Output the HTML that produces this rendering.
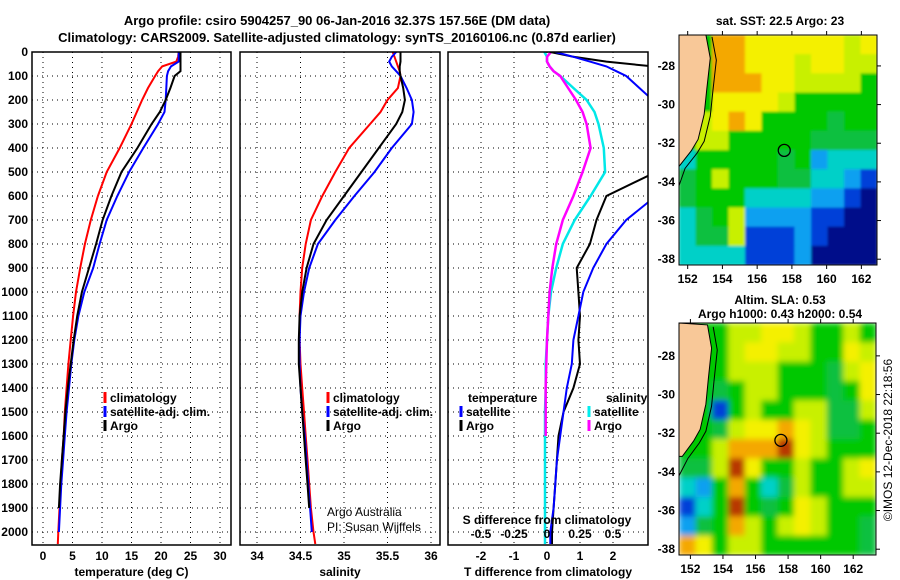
<!DOCTYPE html>
<html><head><meta charset="utf-8"><style>
body{margin:0;background:#fff}
svg{display:block;font-family:"Liberation Sans",sans-serif}
.t{font-weight:bold;font-size:13px}
.tk{font-weight:bold;font-size:12px}
.lg{font-weight:bold;font-size:12px}
</style></head><body>
<svg id="c" width="900" height="580" viewBox="0 0 900 580">
<defs>
<filter id="blur" x="0" y="0" width="1" height="1"><feGaussianBlur stdDeviation="3" edgeMode="duplicate"/></filter>
<filter id="blur1" x="0" y="0" width="1" height="1"><feGaussianBlur stdDeviation="1.2" edgeMode="duplicate"/></filter>
<clipPath id="cp1"><rect x="32" y="52" width="199" height="493"/></clipPath>
<clipPath id="cp2"><rect x="240" y="52" width="200" height="493"/></clipPath>
<clipPath id="cp3"><rect x="448" y="52" width="200" height="493"/></clipPath>
<clipPath id="cm1"><rect x="679" y="35" width="198" height="230"/></clipPath>
<clipPath id="cm2"><rect x="679" y="323" width="197" height="232"/></clipPath>
</defs>
<text x="337" y="25" text-anchor="middle" class="t">Argo profile: csiro 5904257_90 06-Jan-2016 32.37S 157.56E (DM data)</text>
<text x="337" y="42" text-anchor="middle" class="t">Climatology: CARS2009. Satellite-adjusted climatology: synTS_20160106.nc (0.87d earlier)</text>
<text x="780" y="25" text-anchor="middle" class="lg">sat. SST: 22.5 Argo: 23</text>
<text x="780" y="304" text-anchor="middle" class="lg">Altim. SLA: 0.53</text>
<text x="780" y="318" text-anchor="middle" class="lg">Argo h1000: 0.43 h2000: 0.54</text>
<text transform="translate(892,440) rotate(-90)" text-anchor="middle" font-size="12">©IMOS 12-Dec-2018 22:18:56</text>
<g id="g"></g>
</svg>
<script>
const depths=[0,20,40,60,80,100,150,200,250,300,400,500,600,700,800,900,1000,1100,1200,1300,1400,1500,1600,1700,1800,1900,2000,2050];
const tClim=[23,22.9,22.6,20.2,19.5,19,17.8,16.8,15.9,15,13,10.8,9.3,8.1,7.1,6.3,5.6,5.1,4.7,4.3,4.0,3.7,3.5,3.2,3.0,2.8,2.6,2.5];
const tSat=[23,23,23,21.7,21.2,21,20.9,20.8,20.6,19.5,17,14.6,12.6,10.8,9.6,8.5,7.0,6.0,5.3,4.8,4.4,4.0,3.7,3.4,3.1,2.9,2.7,null];
const tArgo=[23.3,23.3,23.3,23.3,23.3,22.3,21.6,20.8,19.8,18.4,16,13.3,11.6,10.1,9.0,7.8,6.6,5.8,5.2,4.7,4.2,3.8,3.5,3.2,2.9,2.7,null,null];
const sClim=[35.56,35.58,35.6,35.62,35.64,35.65,35.62,35.5,35.42,35.3,35.06,34.9,34.75,34.62,34.56,34.52,34.5,34.49,34.49,34.5,34.52,34.54,34.56,34.58,34.6,34.62,34.65,34.67];
const sSat=[35.6,35.55,35.52,35.55,35.6,35.65,35.72,35.78,35.8,35.78,35.55,35.35,35.12,34.9,34.7,34.6,34.54,34.5,34.49,34.49,34.5,34.52,34.55,34.57,34.59,34.61,34.63,null];
const sArgo=[35.65,35.65,35.65,35.64,35.64,35.65,35.68,35.7,35.67,35.6,35.4,35.2,35.0,34.8,34.65,34.57,34.52,34.49,34.48,34.48,34.5,34.52,34.54,34.56,34.58,34.6,null,null];
const dTArgo=[0.1,0.8,1.8,3.2,4,4,4,4,4,4,4,3.3,1.8,1.5,1.3,0.9,0.95,1.0,0.95,1.0,0.8,0.5,0.35,0.3,0.25,0.2,0.15,0.15];
const dTSat=[0.25,0.8,1.3,1.8,2.1,2.4,2.8,3.2,3.6,4,4,3.7,3.3,2.4,1.8,1.4,1.1,0.95,0.8,0.75,0.6,0.5,0.4,0.3,0.25,0.2,0.1,0.1];
const dSSat=[-0.02,0,0,0.02,0.05,0.1,0.2,0.3,0.36,0.39,0.43,0.44,0.33,0.21,0.12,0.07,0.03,0.01,0.0,-0.01,-0.01,-0.015,-0.015,-0.015,-0.015,-0.015,-0.015,-0.015];
const dSArgo=[0.03,0.0,0.0,0.02,0.05,0.1,0.16,0.22,0.27,0.3,0.33,0.27,0.2,0.12,0.07,0.04,0.02,0.01,0.0,-0.005,-0.01,-0.01,-0.01,null,null,null,null,null];
const depthTicks=[0,100,200,300,400,500,600,700,800,900,1000,1100,1200,1300,1400,1500,1600,1700,1800,1900,2000];
const tTicks=[0,5,10,15,20,25,30];
const sTicks=[34,34.5,35,35.5,36];
const dtTicks=[-2,-1,0,1,2];
const dsTicks=[-0.5,-0.25,0,0.25,0.5];
const sstLons=[151.5,162.9], sstLats=[-26.4,-38.3];
const sstGrid=[
[5,5,8,8,7,7,7,7,7,7,6,7],
[5,5,8,8,7,7,7,6,7,7,6,6],
[5,5,8,8,8,7,7,6,6,6,6,5],
[5,5,7,7,7,7,6,5,5,5,5,5],
[5,6,7,8,7,5,5,5,5,4,5,5],
[5,6,6,5,5,5,5,5,4,4,4,4],
[3,5,5,5,5,5,4,5,2,3,3,3],
[4,5,6,5,5,5,4,4,3,3,2,1],
[4,5,5,5,3,3,3,3,2,2,1,0],
[3,4,5,6,2,2,2,2,1,1,0,0],
[3,4,4,6,1,1,1,2,1,0,0,0],
[3,3,3,3,1,1,1,2,0,0,0,0]];
const slaGrid=[
[5,5,5,6,6,7,7,6,5,5,6,5],
[5,5,5,6,7,7,6,6,5,5,7,6],
[5,5,5,6,6,6,5,5,5,4,6,7],
[5,5,4,5,6,6,5,5,5,4,5,7],
[5,5,1,5,6,5,5,6,6,4,4,6],
[5,5,4,6,7,7,8,7,6,4,4,5],
[5,5,6,8,8,8,9,7,6,5,5,5],
[4,4,6,9,7,5,5,6,5,5,6,7],
[3,2,5,8,5,3,4,6,5,5,6,6],
[1,3,5,9,5,4,5,7,6,5,5,5],
[2,4,5,8,6,5,6,7,6,5,5,4],
[8,7,5,6,6,5,5,5,5,5,5,4]];
const coast=[[153.05,-26.4],[153.3,-27.6],[153.1,-29.2],[152.95,-30.5],[152.6,-31.8],[152.2,-32.4],[151.5,-33.2]];
const lonTicks=[152,154,156,158,160,162];
const latTicks=[-28,-30,-32,-34,-36,-38];
const argoPos=[157.56,-32.37];
const palette=['#00088a','#0040d8','#10a0f0','#00d0c8','#10c040','#00c800','#c8f000','#f4f000','#f4a800','#b83800'];

const NS='http://www.w3.org/2000/svg';
const G=document.getElementById('g');
function el(tag,attrs,parent,txt){const e=document.createElementNS(NS,tag);for(const k in attrs)e.setAttribute(k,attrs[k]);if(txt!==undefined)e.textContent=txt;(parent||G).appendChild(e);return e;}
const yD=d=>52+d*0.24;

function panel(name,x0,w,xs,ticks,labFmt,clip,xlabel){
  const g=el('g',{});
  
  
  ticks.forEach(t=>{const l=el('line',{x1:xs(t),x2:xs(t),y1:52,y2:545,stroke:'#000','stroke-width':1,'stroke-dasharray':'1,4'},g);
    });
  depthTicks.forEach(d=>{const l=el('line',{x1:x0,x2:x0+w,y1:yD(d),y2:yD(d),stroke:'#000','stroke-width':1,'stroke-dasharray':'1,4'},g);
    });
  if(labFmt) ticks.forEach(t=>{const tx=el('text',{x:xs(t),y:560,'text-anchor':'middle',class:'tk'},g,labFmt(t));
    });
  if(xlabel){const tx=el('text',{x:x0+w/2,y:576,'text-anchor':'middle',class:'tk'},g,xlabel);
    }
  return g;
}
function series(g,vals,xs,color,clip,name,sw){
  let pts=[];depths.forEach((d,i)=>{if(vals[i]!==null)pts.push(xs(vals[i]).toFixed(1)+','+yD(d).toFixed(1));});
  const p=el('polyline',{points:pts.join(' '),fill:'none',stroke:color,'stroke-width':sw||2,'clip-path':'url(#'+clip+')'},g);
  
}
function frame(x,w,name){const r=el('rect',{x:x,y:52,width:w,height:493,fill:'none',stroke:'#000','stroke-width':1.5});
  }
function legend(x,y,items){items.forEach((it,i)=>{
  const l=el('line',{x1:x,x2:x,y1:y+i*14-10,y2:y+i*14+1,stroke:it[1],'stroke-width':3});
  
  const t=el('text',{x:x+5,y:y+i*14,class:'lg'},G,it[0]);
  });}

depthTicks.forEach(d=>{const t=el('text',{x:28,y:yD(d)+4,'text-anchor':'end',class:'tk'},G,String(d));
  });

const xT=v=>43+v*5.9;
let g1=panel('temperature-panel',32,199,xT,tTicks,String,'cp1','temperature (deg C)');
series(g1,tClim,xT,'#ff0000','cp1','temp-climatology-line');
series(g1,tSat,xT,'#0000ff','cp1','temp-satellite-line');
series(g1,tArgo,xT,'#000','cp1','temp-argo-line');
frame(32,199,'temperature-frame');
legend(105,402,[['climatology','#f00'],['satellite-adj. clim.','#00f'],['Argo','#000']]);

const xS=v=>257+(v-34)*87;
let g2=panel('salinity-panel',240,200,xS,sTicks,String,'cp2','salinity');
series(g2,sClim,xS,'#ff0000','cp2','sal-climatology-line');
series(g2,sSat,xS,'#0000ff','cp2','sal-satellite-line');
series(g2,sArgo,xS,'#000','cp2','sal-argo-line');
frame(240,200,'salinity-frame');
legend(328,402,[['climatology','#f00'],['satellite-adj. clim.','#00f'],['Argo','#000']]);
let a1=el('text',{x:327,y:516,'font-size':12},G,'Argo Australia');
let a2=el('text',{x:327,y:531,'font-size':12},G,'PI: Susan Wijffels');

const xDT=v=>547+v*33, xDS=v=>547+v*132;
let g3=panel('difference-panel',448,200,xDT,dtTicks,String,'cp3','T difference from climatology');
series(g3,dSSat,xDS,'#00e8e8','cp3','sdiff-satellite-line',2.5);
series(g3,dSArgo,xDS,'#ff00ff','cp3','sdiff-argo-line',2.5);
series(g3,dTArgo,xDT,'#000','cp3','tdiff-argo-line');
series(g3,dTSat,xDT,'#0000ff','cp3','tdiff-satellite-line');
frame(448,200,'difference-frame');
let st=el('text',{x:547,y:524,'text-anchor':'middle',class:'lg'},G,'S difference from climatology');
dsTicks.forEach(v=>{const t=el('text',{x:xDS(v),y:538,'text-anchor':'middle',class:'tk'},G,String(v));
  });
let lt=el('text',{x:468,y:402,class:'lg'},G,'temperature');
let ls=el('text',{x:606,y:402,class:'lg'},G,'salinity');
legend(461,416,[['satellite','#00f'],['Argo','#000']]);
legend(589,416,[['satellite','#0ee'],['Argo','#f0f']]);

function map(name,grid,x0,y0,w,h,lon0,lon1,lat0,lat1,clip,filt){
  const px=lo=>x0+(lo-lon0)/(lon1-lon0)*w, py=la=>y0+(lat0-la)/(lat0-lat1)*h;
  const g=el('g',{'clip-path':'url(#'+clip+')'});
  
  const hg=el('g',{filter:'url(#'+filt+')'},g);
  const nr=grid.length,nc=grid[0].length,cw=w/nc,ch=h/nr;
  grid.forEach((row,r)=>row.forEach((v,c)=>{const cell=el('rect',{x:x0+c*cw,y:y0+r*ch,width:cw+0.6,height:ch+0.6,fill:palette[v]},hg);
    }));
  let land=[[lon0,lat0]].concat(coast).concat([[lon0,coast[coast.length-1][1]]]);
  const lp=el('polygon',{points:land.map(p=>px(p[0])+','+py(p[1])).join(' '),fill:'#f8c898',stroke:'#000','stroke-width':1},g);
  
  const sh=el('polyline',{points:coast.map(p=>px(p[0]+0.35)+','+py(p[1]-0.1)).join(' ')+' '+px(lon0)+','+py(-34.2),fill:'none',stroke:'#000','stroke-width':1},g);
  
  const m=el('circle',{cx:px(argoPos[0]),cy:py(argoPos[1]),r:6,fill:'none',stroke:'#000','stroke-width':1.3},g);
  
  const fr=el('rect',{x:x0,y:y0,width:w,height:h,fill:'none',stroke:'#000','stroke-width':1});
  
  lonTicks.forEach(lo=>{const t=el('text',{x:px(lo),y:y0+h+18,'text-anchor':'middle',class:'tk'},G,String(lo));
    
    el('line',{x1:px(lo),x2:px(lo),y1:y0,y2:y0-4,stroke:'#000'});el('line',{x1:px(lo),x2:px(lo),y1:y0+h,y2:y0+h+4,stroke:'#000'});});
  latTicks.forEach(la=>{const t=el('text',{x:x0-4,y:py(la)+4,'text-anchor':'end',class:'tk'},G,String(la));
    
    el('line',{x1:x0+w,x2:x0+w+4,y1:py(la),y2:py(la),stroke:'#000'});});
}
map('sst-map',sstGrid,679,35,198,230,sstLons[0],sstLons[1],sstLats[0],sstLats[1],'cm1','blur1');
map('sla-map',slaGrid,679,323,197,232,151.3,163.4,-26.3,-38.3,'cm2','blur');
</script>
</body></html>
